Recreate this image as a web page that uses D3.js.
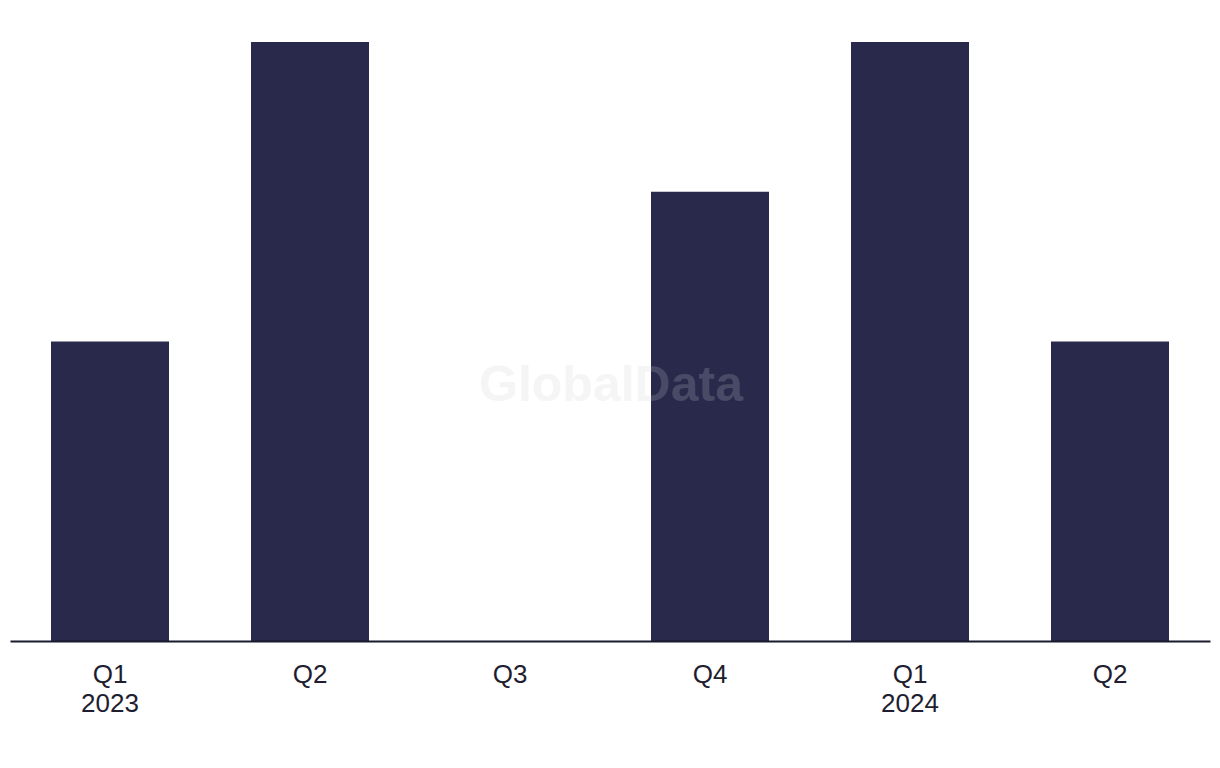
<!DOCTYPE html>
<html>
<head>
<meta charset="utf-8">
<script src="https://cdn.jsdelivr.net/npm/d3@7"></script>
<style>
  body { margin: 0; background: #fff; }
  svg { display: block; font-family: "Liberation Sans", Arial, sans-serif; }
</style>
</head>
<body>
<div id="chart"></div>
<script>
// data
var quarters = ["Q1", "Q2", "Q3", "Q4", "Q1", "Q2"];
var years = ["2023", "", "", "", "2024", ""];
var values = [2, 4, 0, 3, 4, 2];

var W = 1220, H = 768;
var margin = {top: 42, right: 10, bottom: 127, left: 10},
  width = W - margin.left - margin.right,
  height = H - margin.top - margin.bottom;

var svg = d3.select("#chart")
  .append("svg")
  .attr("width", W)
  .attr("height", H)
  .append("g")
  .attr("transform", "translate(" + margin.left + "," + margin.top + ")");

var idx = d3.range(values.length);

var x = d3.scaleBand()
  .domain(idx)
  .range([0, width])
  .paddingInner(0.41)
  .paddingOuter(0.205);

var y = d3.scaleLinear()
  .domain([0, 4])
  .range([height, 0]);

// bars
svg.selectAll(".bar")
  .data(idx)
  .enter()
  .append("rect")
  .attr("class", "bar")
  .attr("x", function(i) { return x(i); })
  .attr("y", function(i) { return y(values[i]); })
  .attr("width", x.bandwidth())
  .attr("height", function(i) { return height - y(values[i]); })
  .style("fill", "#28294b");

// x axis
var xAxis = svg.append("g")
  .attr("transform", "translate(0," + height + ")")
  .call(d3.axisBottom(x).tickSize(0).tickSizeOuter(0).tickFormat(function(i) { return quarters[i]; }));

xAxis.select(".domain")
  .attr("stroke", "#1a1a2e")
  .attr("stroke-width", 2);

xAxis.selectAll(".tick text")
  .attr("y", 0)
  .attr("dy", 0)
  .style("font-size", "26px")
  .style("fill", "#1e1e30")
  .text(null)
  .each(function(i) {
    var t = d3.select(this);
    t.append("tspan").attr("x", 0).attr("y", 42).text(quarters[i]);
    if (years[i]) t.append("tspan").attr("x", 0).attr("y", 71).text(years[i]);
  });

// watermark
d3.select("svg").append("text")
  .attr("x", 611)
  .attr("y", 401)
  .attr("text-anchor", "middle")
  .style("font-size", "50px")
  .style("font-weight", "bold")
  .style("fill", "#cecece")
  .style("opacity", 0.2)
  .text("GlobalData");
</script>
</body>
</html>
